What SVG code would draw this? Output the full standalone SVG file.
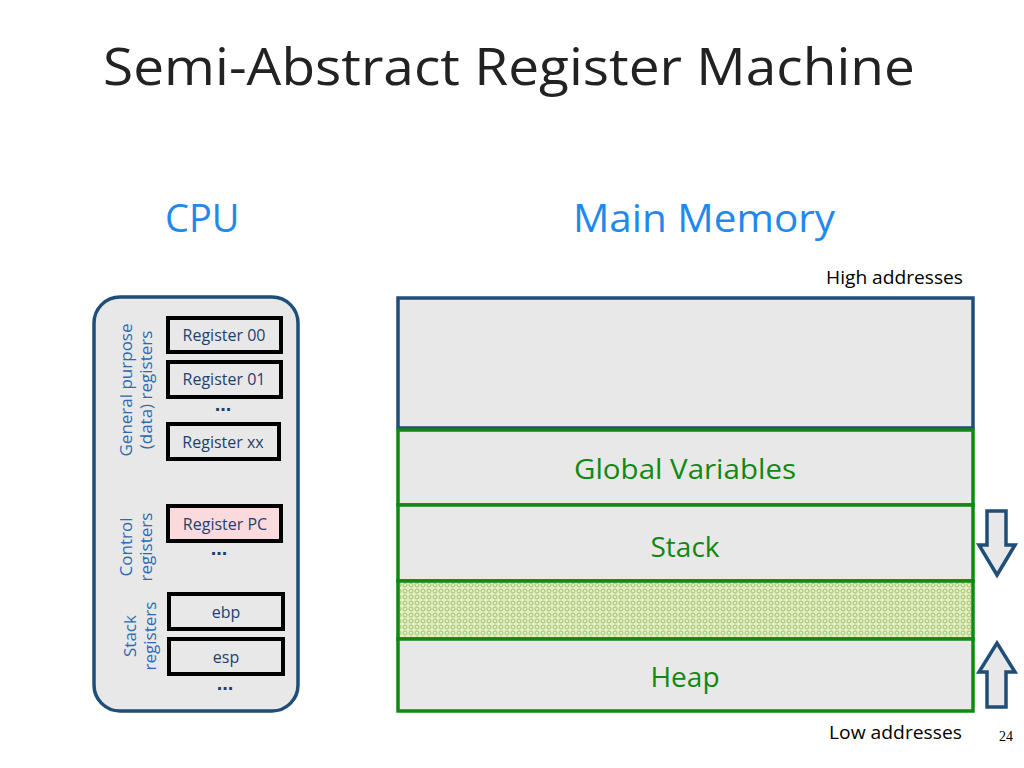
<svg xmlns="http://www.w3.org/2000/svg" width="1024" height="768" viewBox="0 0 1024 768">
<style>
text{font-family:"Liberation Sans","Open Sans",sans-serif}
.c{font-family:"Open Sans","Noto Sans",sans-serif}
.reg{fill:#e8e8e8;stroke:#000;stroke-width:4}
.rt{font-size:16px;fill:#1f3f6f;text-anchor:middle}
.lab{font-size:17px;fill:#2b6cb0;text-anchor:middle}
.mem{fill:#e8e8e8;stroke:#118811;stroke-width:3.5}
.mt{font-size:28px;fill:#118811;text-anchor:middle}
.dots{font-size:20px;fill:#1f3f6f;text-anchor:middle;font-weight:bold}
.arr{fill:#e8e8e8;stroke:#1f4e79;stroke-width:3.5}
</style>
<defs>
<pattern id="p" width="6" height="6" patternUnits="userSpaceOnUse">
<rect width="6" height="6" fill="#e4edc4"/>
<circle cx="3" cy="3" r="2" fill="none" stroke="#9cc46a" stroke-width="1"/>
</pattern>
</defs>
<rect width="1024" height="768" fill="#fff"/>
<text class="c" x="103" y="85" font-size="52" fill="#222" textLength="812" lengthAdjust="spacingAndGlyphs">Semi-Abstract Register Machine</text>
<text class="c" x="165" y="232" font-size="38" fill="#2288ee">CPU</text>
<text class="c" x="573" y="232" font-size="38" fill="#2288ee" textLength="262" lengthAdjust="spacingAndGlyphs">Main Memory</text>
<text class="c" x="826" y="284" font-size="18" fill="#000" textLength="137" lengthAdjust="spacingAndGlyphs">High addresses</text>
<text class="c" x="829" y="739" font-size="18" fill="#000" textLength="133" lengthAdjust="spacingAndGlyphs">Low addresses</text>
<text x="999" y="741" font-size="14" fill="#000" style="font-family:'Liberation Serif',serif">24</text>
<g id="cpu">
<rect x="94" y="297" width="204" height="414" rx="26" fill="#e8e8e8" stroke="#1f4e79" stroke-width="3.5"/>
<text class="lab c" transform="translate(132,390) rotate(-90)">General purpose</text>
<text class="lab c" transform="translate(152,390) rotate(-90)">(data) registers</text>
<text class="lab c" transform="translate(132,547) rotate(-90)">Control</text>
<text class="lab c" transform="translate(152,547) rotate(-90)">registers</text>
<text class="lab c" transform="translate(136,636) rotate(-90)">Stack</text>
<text class="lab c" transform="translate(156,636) rotate(-90)">registers</text>
</g>
<g id="r00"><rect class="reg" x="168" y="318" width="113" height="34"/><text class="rt c" x="224" y="341">Register 00</text></g>
<g id="r01"><rect class="reg" x="168" y="362" width="113" height="35"/><text class="rt c" x="224" y="385">Register 01</text></g>
<text class="dots" x="223" y="411">...</text>
<g id="rxx"><rect class="reg" x="168" y="424" width="111" height="35"/><text class="rt c" x="223" y="448">Register xx</text></g>
<g id="rpc"><rect class="reg" x="168" y="506" width="113" height="35" style="fill:#fadadd"/><text class="rt c" x="225" y="530">Register PC</text></g>
<text class="dots" x="219" y="555">...</text>
<g id="ebp"><rect class="reg" x="169" y="594" width="114" height="35"/><text class="rt c" x="226" y="618">ebp</text></g>
<g id="esp"><rect class="reg" x="169" y="639" width="114" height="35"/><text class="rt c" x="226" y="663">esp</text></g>
<text class="dots" x="225" y="690">...</text>
<g id="memtop"><rect x="398" y="298" width="575" height="130" fill="#e8e8e8" stroke="#1f4e79" stroke-width="3.5"/></g>
<g id="global"><rect class="mem" x="398" y="430" width="575" height="75"/><text class="mt c" x="685" y="479" textLength="222" lengthAdjust="spacingAndGlyphs">Global Variables</text></g>
<g id="stack"><rect class="mem" x="398" y="505" width="575" height="76"/><text class="mt c" x="685" y="557">Stack</text></g>
<g id="free"><rect class="mem" x="398" y="581" width="575" height="58" style="fill:url(#p)"/></g>
<g id="heap"><rect class="mem" x="398" y="639" width="575" height="72"/><text class="mt c" x="685" y="687">Heap</text></g>
<g id="connectors">
<polygon class="arr" points="987,511 1006,511 1006,545 1015,545 997,575 979,545 987,545"/>
<polygon class="arr" points="987,707 1006,707 1006,672 1015,672 997,643 979,672 987,672"/>
</g>
</svg>
